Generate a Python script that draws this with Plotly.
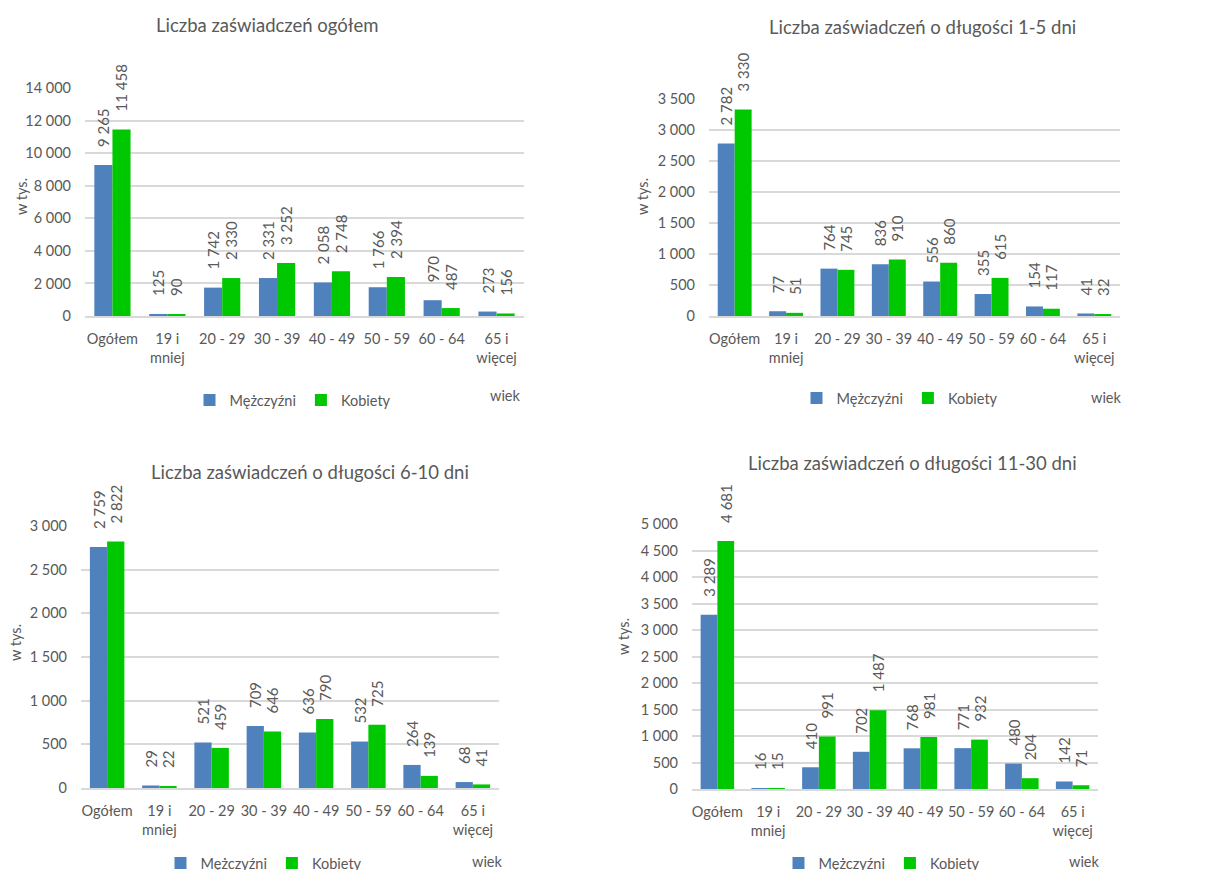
import plotly.graph_objects as go

# the page body has an 8px margin; the figure is sized so that it fills the rest of the window
OFF = 8
W, H = 1211 - OFF, 870 - OFF

categories = ["Ogółem", "19 i<br>mniej", "20 - 29", "30 - 39", "40 - 49", "50 - 59", "60 - 64", "65 i<br>więcej"]

titles = [
    "Liczba zaświadczeń ogółem",
    "Liczba zaświadczeń o długości 1-5 dni",
    "Liczba zaświadczeń o długości 6-10 dni",
    "Liczba zaświadczeń o długości 11-30 dni",
]

men_total = [9265, 125, 1742, 2331, 2058, 1766, 970, 273]
women_total = [11458, 90, 2330, 3252, 2748, 2394, 487, 156]

men_1_5 = [2782, 77, 764, 836, 556, 355, 154, 41]
women_1_5 = [3330, 51, 745, 910, 860, 615, 117, 32]

men_6_10 = [2759, 29, 521, 709, 636, 532, 264, 68]
women_6_10 = [2822, 22, 459, 646, 790, 725, 139, 41]

men_11_30 = [3289, 16, 410, 702, 768, 771, 480, 142]
women_11_30 = [4681, 15, 991, 1487, 981, 932, 204, 71]

y_max = [14000, 3500, 3000, 5000]
y_dtick = [2000, 500, 500, 500]

series_names = ["Mężczyźni", "Kobiety"]
colors = ["#4F81BD", "#00C800"]

# geometry in window pixels (left, right, top, bottom of plot area)
panels = [
    dict(l=85, r=524, t=88, b=316, title=(267, 25), ytitle=(22, 197), legend=(293, 400), wiek=(505, 395)),
    dict(l=709, r=1120, t=99, b=316, title=(922, 27), ytitle=(643, 197), legend=(900, 398), wiek=(1106, 397)),
    dict(l=81, r=499, t=526, b=788, title=(310, 472), ytitle=(15, 643), legend=(264, 863), wiek=(487, 861)),
    dict(l=692, r=1098, t=524, b=789, title=(912, 463), ytitle=(623, 637), legend=(882, 863), wiek=(1084, 861)),
]

data_sets = [
    (men_total, women_total),
    (men_1_5, women_1_5),
    (men_6_10, women_6_10),
    (men_11_30, women_11_30),
]

FONT = "Lato"
GRAY = "#595959"
GRID = "#D9D9D9"
FS_TICK = 14.5
FS_LABEL = 15
LABEL_GAP = "\u2002\u2002"  # blank room between bar end and its rotated label


def px(x):
    return (x - OFF) / W


def py(y):
    return 1 - (y - OFF) / H


fig = go.Figure()
layout = dict(
    width=W, height=H,
    margin=dict(l=0, r=0, t=0, b=0, autoexpand=False),
    paper_bgcolor="white", plot_bgcolor="white",
    separators=", ",
    barmode="group", bargap=0.34, bargroupgap=0.0,
    font=dict(family=FONT, size=FS_TICK, color=GRAY),
    annotations=[],
)

for i, (p, (men, women)) in enumerate(zip(panels, data_sets)):
    n = "" if i == 0 else str(i + 1)
    xa, ya = "x" + n, "y" + n
    leg = "legend" + n
    for name, vals, col in zip(series_names, (men, women), colors):
        fig.add_trace(go.Bar(
            x=categories, y=vals, name=name, marker_color=col,
            marker_line_width=0,
            xaxis=xa, yaxis=ya, legend=leg,
            texttemplate=LABEL_GAP + "%{y:,}", textposition="outside", textangle=-90,
            constraintext="none", cliponaxis=False,
            textfont=dict(family=FONT, size=FS_LABEL, color=GRAY),
            hoverinfo="skip",
        ))
    layout["xaxis" + n] = dict(
        domain=[px(p["l"]), px(p["r"])], anchor=ya,
        showgrid=False, showline=True, linecolor=GRID, linewidth=2,
        ticks="", ticklabelstandoff=9, tickangle=0,
        tickfont=dict(family=FONT, size=FS_TICK, color=GRAY),
        fixedrange=True,
    )
    layout["yaxis" + n] = dict(
        domain=[py(p["b"]), py(p["t"])], anchor=xa,
        range=[0, y_max[i]], dtick=y_dtick[i], tickformat=",",
        showgrid=True, gridcolor=GRID, gridwidth=1.5,
        zeroline=False, showline=False, ticks="", ticklabelstandoff=13,
        tickfont=dict(family=FONT, size=FS_TICK, color=GRAY),
        fixedrange=True,
    )
    layout[leg] = dict(
        orientation="h", x=px(p["legend"][0]), y=py(p["legend"][1]),
        xanchor="center", yanchor="middle", xref="paper", yref="paper",
        font=dict(family=FONT, size=FS_TICK, color=GRAY),
        bgcolor="rgba(0,0,0,0)", itemwidth=30, tracegroupgap=0,
    )
    layout["annotations"] += [
        dict(text=titles[i], x=px(p["title"][0]), y=py(p["title"][1]),
             xref="paper", yref="paper", showarrow=False,
             xanchor="center", yanchor="middle",
             font=dict(family=FONT, size=18.5, color=GRAY)),
        dict(text="w tys.", x=px(p["ytitle"][0]), y=py(p["ytitle"][1]),
             xref="paper", yref="paper", showarrow=False, textangle=-90,
             xanchor="center", yanchor="middle",
             font=dict(family=FONT, size=14.5, color=GRAY)),
        dict(text="wiek", x=px(p["wiek"][0]), y=py(p["wiek"][1]),
             xref="paper", yref="paper", showarrow=False,
             xanchor="center", yanchor="middle",
             font=dict(family=FONT, size=FS_TICK, color=GRAY)),
    ]

fig.update_layout(**layout)
fig.write_html("out.html")
